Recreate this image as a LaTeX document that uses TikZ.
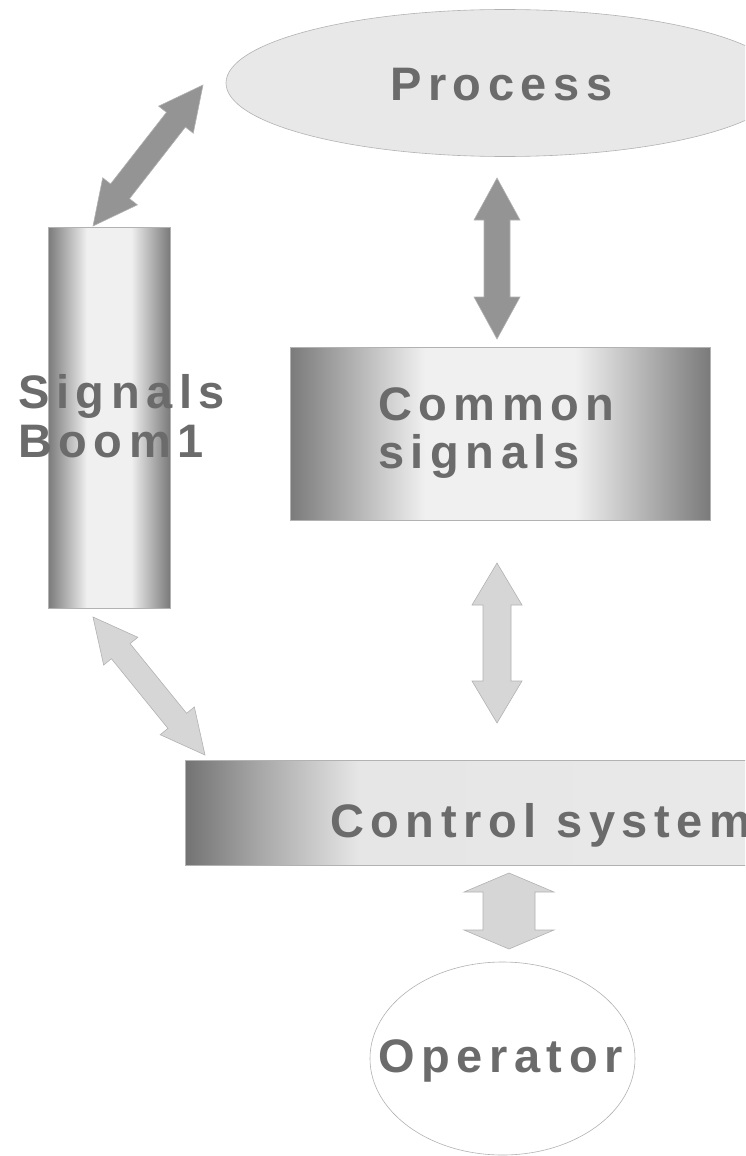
\documentclass[tikz,border=0pt]{standalone}
\usepackage{fontspec}
\newfontfamily\lblfont{Liberation Sans}[LetterSpace=14]
\usetikzlibrary{shapes.geometric,calc}
\pgfdeclarehorizontalshading{edgedark}{100bp}{color(0bp)=(black!52); color(25bp)=(black!52); color(32bp)=(black!32); color(41bp)=(black!6); color(59bp)=(black!6); color(68bp)=(black!32); color(75bp)=(black!52); color(100bp)=(black!52)}
\pgfdeclarehorizontalshading{leftdark}{100bp}{color(0bp)=(black!55); color(25bp)=(black!55); color(30bp)=(black!35); color(37bp)=(black!10); color(75bp)=(black!8); color(100bp)=(black!8)}
\newcommand\blockarr[6]{%
  \pgfpointdiff{\pgfpointanchor{#1}{center}}{\pgfpointanchor{#2}{center}}%
  \pgfgetlastxy\bdx\bdy
  \pgfmathsetmacro\bang{atan2(\bdy,\bdx)}%
  \pgfmathsetmacro\blen{veclen(\bdx,\bdy)}%
  \begin{scope}[shift={(#1)},rotate=\bang,x=1pt,y=1pt]
    \filldraw[#6] (0,0) -- (#5,#4) -- (#5,#3) -- (\blen-#5,#3) -- (\blen-#5,#4) -- (\blen,0)
      -- (\blen-#5,-#4) -- (\blen-#5,-#3) -- (#5,-#3) -- (#5,-#4) -- cycle;
  \end{scope}}
\begin{document}
\begin{tikzpicture}[x=1pt,y=-1pt,
  lbl/.style={inner sep=0pt,anchor=base west,text=black!58,font=\lblfont\bfseries\fontsize{47}{49}\selectfont},
  outline/.style={draw=black!30,line width=0.6pt},
  darkarr/.style={draw=black!30,line width=0.6pt,fill=black!42},
  lightarr/.style={draw=black!30,line width=0.6pt,fill=black!16}]
\useasboundingbox (0,0) rectangle (745,1156);
\clip (0,0) rectangle (745,1156);
% shapes
\node[ellipse,outline,fill=black!9,minimum width=558,minimum height=147,inner sep=0pt] (proc) at (505,83) {};
\node[rectangle,outline,shading=edgedark,minimum width=122,minimum height=381,inner sep=0pt] (boom) at (109,417.5) {};
\node[rectangle,outline,shading=edgedark,minimum width=420,minimum height=173,inner sep=0pt] (common) at (500,433.5) {};
\node[rectangle,outline,shading=leftdark,minimum width=720,minimum height=105,inner sep=0pt] (ctrl) at (545,812.5) {};
\node[ellipse,outline,fill=white,minimum width=265,minimum height=193,inner sep=0pt] (oper) at (502.5,1058.5) {};
% texts
\node[lbl] (tproc) at (390,100) {Process};
\node[lbl] (tboom1) at (18,408) {Signals};
\node[lbl] (tboom2) at (18,457) {Boom1};
\node[lbl] (tcom1) at (378,420) {Common};
\node[lbl] (tcom2) at (378,468) {signals};
\node[lbl] (tctrl) at (330,837) {Control system};
\node[lbl] (toper) at (378,1072) {Operator};
% arrow end points
\coordinate (a1s) at (93,226);
\coordinate (a1e) at (203,85);
\coordinate (a2s) at (497,178);
\coordinate (a2e) at (497,339);
\coordinate (a3s) at (497,563);
\coordinate (a3e) at (497,723);
\coordinate (a4s) at (93,617);
\coordinate (a4e) at (205,755);
\coordinate (a5s) at (509,873);
\coordinate (a5e) at (509,949);
% block arrows
\blockarr{a1s}{a1e}{12}{22}{44}{darkarr}
\blockarr{a2s}{a2e}{13}{23}{42}{darkarr}
\blockarr{a3s}{a3e}{14}{25}{42}{lightarr}
\blockarr{a4s}{a4e}{12}{22}{44}{lightarr}
\blockarr{a5s}{a5e}{26}{45}{19}{lightarr}
\end{tikzpicture}
\end{document}
